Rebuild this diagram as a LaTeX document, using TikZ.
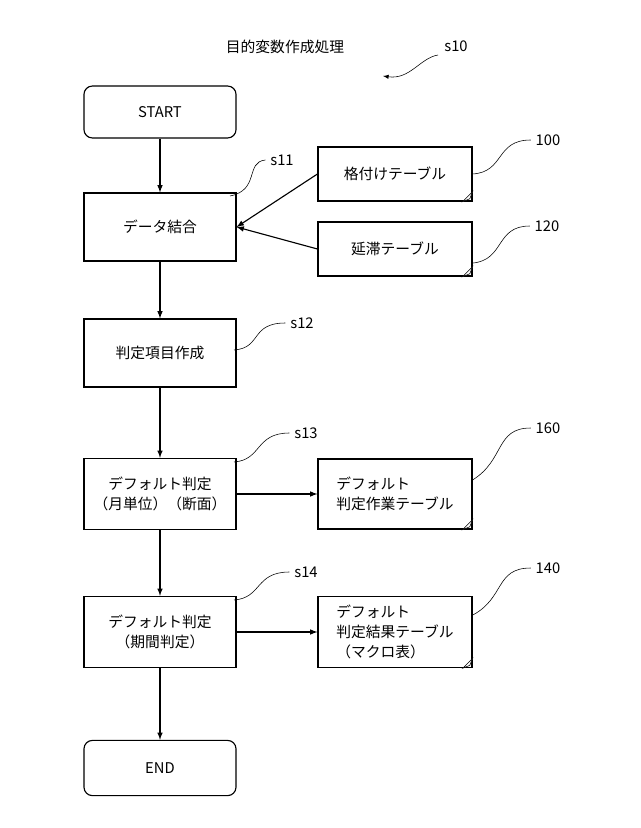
\documentclass[tikz,border=0pt]{standalone}
\usepackage{fontspec}
\setmainfont{Noto Sans CJK JP}
\usetikzlibrary{positioning}

\begin{document}
\begin{tikzpicture}[x=0.025cm,y=-0.025cm,font=\fontsize{10.5}{14}\selectfont,
    proc/.style={draw,thick,minimum width=3.8cm,minimum height=1.7cm,align=center},
    term/.style={proc,rounded corners=6pt,minimum height=1.3cm},
    doc/.style={draw,thick,minimum width=3.85cm,minimum height=1.35cm,align=left},
    flow/.style={->,thick,>=latex},
    lead/.style={thin}]
    \useasboundingbox (0,0) rectangle (640,828);
    % Title
    \node (title) at (285,47) {目的変数作成処理};
    \node (s10) at (456,46) {s10};
    \draw[->,>=latex,thin] (438,55) .. controls (420,58) and (410,80) .. (383,76);
    % Main flow
    \node[term] (start) at (160,112) {START};
    \node[proc] (merge) at (160,227) {データ結合};
    \node[proc] (item) at (160,353) {判定項目作成};
    \node[proc,minimum height=1.78cm] (dmon) at (160,494) {デフォルト判定\\（月単位）（断面）};
    \node[proc,minimum height=1.78cm] (dper) at (160,632) {デフォルト判定\\（期間判定）};
    \node[term,minimum height=1.38cm] (end) at (160,768) {END};
    \draw[flow] (start) -- (merge);
    \draw[flow] (merge) -- (item);
    \draw[flow] (item) -- (dmon);
    \draw[flow] (dmon) -- (dper);
    \draw[flow] (dper) -- (end);
    % Tables
    \node[doc] (rating) at (395,174) {格付けテーブル};
    \node[doc] (overdue) at (395,249) {延滞テーブル};
    \node[doc,minimum height=1.75cm] (work) at (395,494) {デフォルト\\判定作業テーブル};
    \node[doc,minimum height=1.78cm] (result) at (395,632) {デフォルト\\判定結果テーブル\\（マクロ表）};
    \foreach \d in {rating,overdue,work,result}
        \draw[thin,fill=white] ([yshift=7pt]\d.south east) -- ([xshift=-7pt]\d.south east)
            -- ([xshift=-2pt,yshift=2pt]\d.south east) -- cycle;
    \draw[flow] (rating.west) -- (merge.east);
    \draw[flow] (overdue.west) -- (merge.east);
    \draw[flow] (dmon) -- (work);
    \draw[flow] (dper) -- (result);
    % Reference labels
    \node (s11) at (282,160) {s11};
    \node (s12) at (302,323) {s12};
    \node (s13) at (306,433) {s13};
    \node (s14) at (306,572) {s14};
    \node (n100) at (548,140) {100};
    \node (n120) at (547,226) {120};
    \node (n160) at (548,428) {160};
    \node (n140) at (548,568) {140};
    \draw[lead] (230,196) .. controls (260,190) and (245,162) .. (s11.west);
    \draw[lead] (234,350) .. controls (262,348) and (250,323) .. (s12.west);
    \draw[lead] (234,462) .. controls (262,460) and (255,433) .. (s13.west);
    \draw[lead] (234,600) .. controls (262,598) and (255,572) .. (s14.west);
    \draw[lead] (rating.east) .. controls (505,172) and (495,140) .. (n100.west);
    \draw[lead] ([yshift=-10pt]overdue.east) .. controls (505,260) and (495,226) .. (n120.west);
    \draw[lead] ([yshift=10pt]work.east) .. controls (505,460) and (495,428) .. (n160.west);
    \draw[lead] ([yshift=12pt]result.east) .. controls (505,598) and (495,568) .. (n140.west);
\end{tikzpicture}
\end{document}
